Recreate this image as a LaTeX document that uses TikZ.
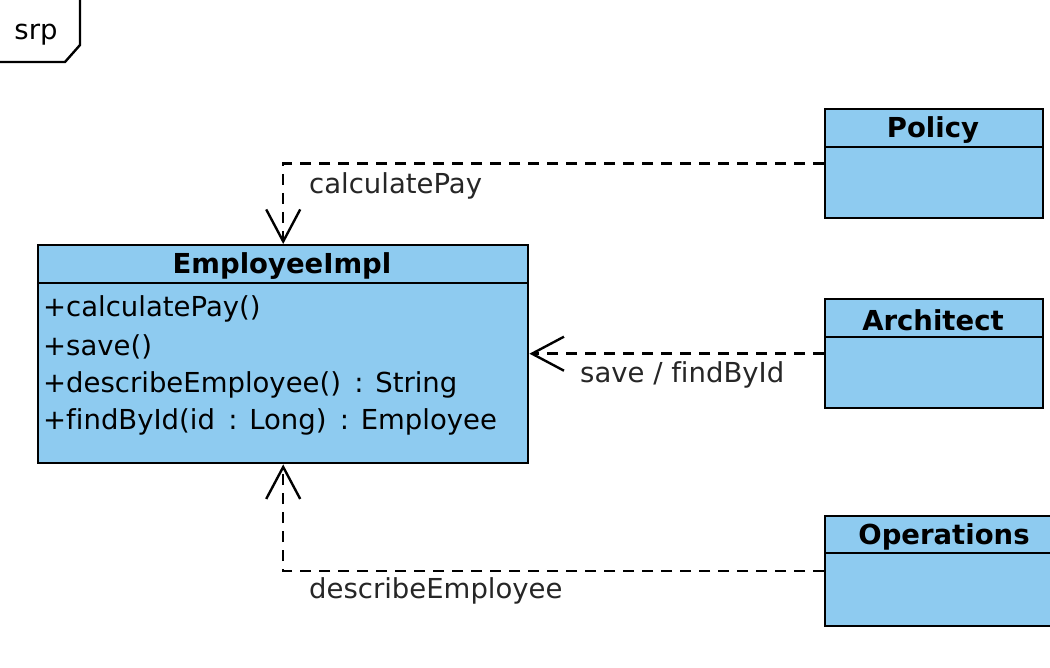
\documentclass[tikz,border=0pt]{standalone}
\usepackage{fontspec}
\setmainfont{DejaVu Sans}[Ligatures=NoCommon]
\usetikzlibrary{arrows.meta}
\definecolor{umlblue}{RGB}{142,203,240}
\tikzset{
  cls/.style={draw=black, fill=umlblue, line width=2.4pt, rectangle, anchor=north west, inner sep=0pt},
  ttl/.style={font=\bfseries\fontsize{27.5}{30}\selectfont, inner sep=0pt},
  mem/.style={font=\fontsize{27.5}{30}\selectfont, inner sep=0pt, anchor=west},
  lbl/.style={font=\fontsize{27.5}{30}\selectfont, inner sep=0pt, anchor=west, text=black!85},
  dep/.style={line width=2.4pt, dash pattern=on 11pt off 8pt, -{Straight Barb[length=32pt,width=34pt,line width=2.4pt]}},
  divl/.style={line width=2.4pt}
}
\begin{document}
\begin{tikzpicture}[x=1pt,y=-1pt]
\useasboundingbox (0,0) rectangle (1050,668);
% frame tab
\draw[line width=2.4pt] (-2,62) -- (65,62) -- (80,45) -- (80,-2);
\node[font=\fontsize{27.5}{30}\selectfont, inner sep=0pt] (srp) at (36,35) {srp};
% EmployeeImpl
\node[cls, minimum width=490pt, minimum height=218pt] (emp) at (37,244) {};
\draw[divl] (37,283) -- (527,283);
\node[ttl] (empt) at (282,266) {EmployeeImpl};
\node[mem] (m1) at (43,309) {+calculatePay()};
\node[mem] (m2) at (43,347) {+save()};
\node[mem] (m3) at (43,385) {+describeEmployee()\, : String};
\node[mem] (m4) at (43,422) {+findById(id\, : Long)\, : Employee};
% Policy
\node[cls, minimum width=218pt, minimum height=109pt] (pol) at (824,108) {};
\draw[divl] (824,147) -- (1042,147);
\node[ttl] (polt) at (933,130) {Policy};
% Architect
\node[cls, minimum width=218pt, minimum height=109pt] (arch) at (824,298) {};
\draw[divl] (824,337) -- (1042,337);
\node[ttl] (archt) at (933,320) {Architect};
% Operations
\node[cls, minimum width=240pt, minimum height=110pt] (ops) at (824,515) {};
\draw[divl] (824,553) -- (1064,553);
\node[ttl] (opst) at (944,537) {Operations};
% dependencies
\draw[dep] (pol.west) -| (emp.north);
\draw[dep] (arch.west) -- (arch.west -| emp.east);
\draw[dep] (ops.west) -| (emp.south);
% labels
\node[lbl] (l1) at (309,186) {calculatePay};
\node[lbl] (l2) at (580,375) {save / findById};
\node[lbl] (l3) at (309,591) {describeEmployee};
\end{tikzpicture}
\end{document}
